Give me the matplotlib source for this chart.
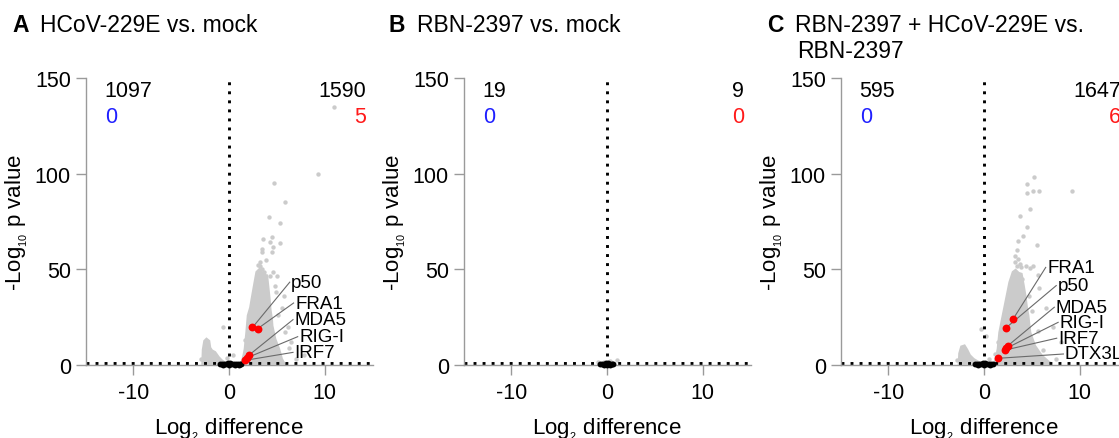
import matplotlib
matplotlib.use("Agg")
import matplotlib.pyplot as plt

plt.rcParams['font.family'] = ['Liberation Sans', 'DejaVu Sans']
plt.rcParams['mathtext.fontset'] = 'custom'
plt.rcParams['mathtext.rm'] = 'Liberation Sans'
plt.rcParams['mathtext.it'] = 'Liberation Sans:italic'
plt.rcParams['axes.unicode_minus'] = False

# ---------------- data ----------------
titles = [["HCoV-229E vs. mock"], ["RBN-2397 vs. mock"],
          ["RBN-2397 + HCoV-229E vs.", "RBN-2397"]]
letters = ["A", "B", "C"]

down_counts = [1097, 19, 595]
up_counts = [1590, 9, 1647]
down_hits = [0, 0, 0]
up_hits = [5, 0, 6]

sig_threshold = 1.3  # -log10(0.05)

# dense clouds of significant genes (outline of the overlapping points)
cloud_up_A_x = [1.33, 1.55, 1.68, 1.85, 2.0, 2.25, 2.4, 2.7, 2.9, 3.2, 3.6, 3.95, 4.1,
                4.2, 4.3, 4.45, 4.5, 4.8, 5.2, 5.5, 5.75, 1.33]
cloud_up_A_y = [0.8, 5, 8.4, 17, 25.8, 30, 34.5, 43, 48.5, 50, 47, 46.7, 39.7,
                35, 29, 24, 20.5, 13.6, 8.4, 3.1, 0.8, 0.8]
cloud_dn_A_x = [-2.75, -2.7, -2.55, -2.35, -2.1, -2.0, -1.8, -1.47, -1.1, -0.77, -0.35, -2.75]
cloud_dn_A_y = [0.8, 8, 12.5, 13.5, 12.5, 9, 7.5, 6.6, 4, 2.3, 0.8, 0.8]

cloud_up_C_x = [1.12, 1.3, 1.47, 1.64, 1.99, 2.34, 2.69, 3.04, 3.3, 3.6, 3.9, 4.1, 4.3,
                4.45, 4.6, 4.8, 5.3, 6.0, 6.7, 7.0, 1.12]
cloud_up_C_y = [0.8, 4, 8.4, 17, 25.8, 34.5, 43.2, 48.5, 49.5, 48, 47.5, 42, 36,
                30, 25.8, 17, 10, 4.9, 1.8, 0.8, 0.8]
cloud_dn_C_x = [-2.6, -2.55, -2.35, -2.05, -1.8, -1.5, -1.1, -0.7, -0.3, -2.6]
cloud_dn_C_y = [0.8, 6, 9.5, 10, 8, 5, 3, 1.8, 0.8, 0.8]

# isolated significant genes
sig_A_x = [11.0, 9.35, 4.75, 5.9, 4.2, 5.3, 3.6, 4.45, 4.3, 5.3, 3.5, 4.5, 3.4, 4.65,
           3.45, 3.65, 4.65, 5.0, 4.8, 4.3, 3.25, 5.5, 6.2, 6.5, 7.8, -0.6, 3.2, 5.8,
           3.0, 3.9, 4.9, 5.1, 5.9, 6.3, 7.0, 1.7, 2.2, -2.9, -0.2, 0.4]
sig_A_y = [135, 100, 95, 85, 77.5, 74, 66, 67, 64.5, 63.6, 58.8, 58.8, 60.5, 61.8,
           50, 48.5, 48.5, 46.4, 41.5, 46.4, 52, 30, 20, 12, 5, 19.7, 54, 36,
           52.5, 55, 38, 26, 17, 9, 3, 13, 24, 3, 3.5, 5]
sig_B_x = [-0.9, 1.0, 0.3, -0.3]
sig_B_y = [1.5, 2.8, 2.0, 1.8]
sig_C_x = [9.2, 5.2, 4.45, 5.1, 5.8, 4.5, 4.8, 3.74, 4.5, 4.1, 3.6, 5.55, 3.29, 3.56,
           3.4, 3.9, 4.4, 4.8, 5.1, 5.6, 5.8, 6.5, 7.2, 8.0, -0.27, 0.25, 4.0, 3.5,
           3.2, 3.8, 4.7, 5.0, 5.6, 6.2, 7.5, 1.1, 1.5, -2.8, 0.5]
sig_C_y = [90.8, 98, 94.6, 91, 91, 89.7, 81.5, 77.7, 72, 67.3, 64.7, 62.9, 57, 55.5,
           52, 51, 52, 50.5, 51.5, 47, 40, 30, 20, 12, 18.8, 15.3, 45, 60,
           54, 53, 36, 28, 18, 8, 3, 6, 12, 2.5, 3]

# non-significant genes
ns_A_x = [-0.9, -0.7, -0.5, -0.3, -0.1, 0.1, 0.3, 0.5, 0.7, 0.9, 1.1, 1.3, -0.6, 0.0, 0.6, 1.0]
ns_A_y = [0.3, 0.5, 0.6, 0.7, 0.8, 0.8, 0.7, 0.6, 0.5, 0.4, 0.4, 0.3, 0.1, 0.2, 0.2, 0.1]
ns_B_x = [-0.7, -0.5, -0.3, -0.1, 0.1, 0.3, 0.5, 0.65, -0.3, 0.0, 0.3]
ns_B_y = [0.3, 0.5, 0.7, 0.9, 0.9, 0.7, 0.5, 0.3, 0.1, 0.2, 0.1]
ns_C_x = [-0.95, -0.7, -0.5, -0.3, -0.1, 0.1, 0.3, 0.5, 0.7, 0.9, -0.6, 0.0, 0.6]
ns_C_y = [0.3, 0.5, 0.6, 0.7, 0.8, 0.8, 0.7, 0.6, 0.5, 0.3, 0.1, 0.2, 0.1]

# highlighted genes: name, log2 difference, -log10 p, label position
hits_A_names = ["p50", "FRA1", "MDA5", "RIG-I", "IRF7"]
hits_A_x = [2.45, 3.0, 2.1, 1.9, 1.65]
hits_A_y = [19.6, 19.0, 5.2, 3.8, 2.4]
hits_A_lx = [6.5, 6.9, 6.84, 7.33, 6.84]
hits_A_ly = [43.3, 32.4, 23.7, 14.8, 6.6]

hits_C_names = ["FRA1", "p50", "MDA5", "RIG-I", "IRF7", "DTX3L"]
hits_C_x = [3.04, 2.27, 2.5, 2.35, 2.2, 1.47]
hits_C_y = [24.0, 19.3, 10.1, 8.8, 7.8, 3.5]
hits_C_lx = [6.6, 7.7, 7.5, 7.9, 7.75, 8.45]
hits_C_ly = [51, 41.5, 30.2, 22.3, 14.0, 5.75]

panels = [
    dict(clouds=[(cloud_up_A_x, cloud_up_A_y), (cloud_dn_A_x, cloud_dn_A_y)],
         sx=sig_A_x, sy=sig_A_y, nx=ns_A_x, ny=ns_A_y,
         hits=(hits_A_names, hits_A_x, hits_A_y, hits_A_lx, hits_A_ly)),
    dict(clouds=[], sx=sig_B_x, sy=sig_B_y, nx=ns_B_x, ny=ns_B_y, hits=None),
    dict(clouds=[(cloud_up_C_x, cloud_up_C_y), (cloud_dn_C_x, cloud_dn_C_y)],
         sx=sig_C_x, sy=sig_C_y, nx=ns_C_x, ny=ns_C_y,
         hits=(hits_C_names, hits_C_x, hits_C_y, hits_C_lx, hits_C_ly)),
]

# ---------------- figure ----------------
W, H = 1119, 439
fig = plt.figure(figsize=(W / 100, H / 100), dpi=100)

ax_left_px = [85.5, 463.5, 840.5]
ax_w_px, ax_h_px = 287, 287
ax_bottom_px = 366  # from top
title_x_px = [12, 388, 767]
title_text_px = [40, 417, 795]
title_line_px = [32, 58]

GRAY = '#cbcbcb'
SPINE = '#9a9a9a'

XLABEL = r'Log$_{_\mathrm{2}}$ difference'
YLABEL = r'-Log$_{_\mathrm{10}}$ p value'

for i, p in enumerate(panels):
    ax = fig.add_axes([ax_left_px[i] / W, (H - ax_bottom_px) / H, ax_w_px / W, ax_h_px / H])
    ax.set_xlim(-15, 15)
    ax.set_ylim(0, 150)
    for s in ['top', 'right']:
        ax.spines[s].set_visible(False)
    for s in ['left', 'bottom']:
        ax.spines[s].set_color(SPINE)
        ax.spines[s].set_linewidth(1.0)
    ax.set_xticks([-10, 0, 10])
    ax.set_yticks([0, 50, 100, 150])
    ax.tick_params(axis='both', colors=SPINE, labelcolor='black', labelsize=15.5,
                   length=7.5, width=1.0)
    ax.tick_params(axis='x', pad=5)
    ax.tick_params(axis='y', pad=3)

    ax.set_xlabel(XLABEL, fontsize=16)
    ax.set_ylabel(YLABEL, fontsize=16)
    ax.xaxis.set_label_coords(0.5, -0.177)
    ax.yaxis.set_label_coords(-0.195, 0.5)

    for cx, cy in p['clouds']:
        ax.fill(cx, cy, color=GRAY, lw=2.0, ec=GRAY, zorder=1)
    ax.scatter(p['sx'], p['sy'], s=10, color=GRAY, lw=0, zorder=1)
    ax.scatter(p['nx'], p['ny'], s=18, color='black', lw=0, zorder=3, clip_on=False)

    # threshold lines
    ax.plot([0, 0], [0, 150], color='black', lw=2.1, ls=(0, (1, 2.1)),
            dash_capstyle='butt', zorder=2, clip_on=False)
    ax.plot([-15, 15], [sig_threshold, sig_threshold], color='black', lw=2.1,
            ls=(0, (1, 2.1)), dash_capstyle='butt', zorder=2, clip_on=False)

    if p['hits'] is not None:
        names, hx, hy, lx, ly = p['hits']
        for n, x, y, tx, ty in zip(names, hx, hy, lx, ly):
            ax.plot([x, tx - 0.15], [y, ty], color='#6a6a6a', lw=0.8, zorder=4)
            ax.text(tx, ty, n, fontsize=13.5, ha='left', va='center', zorder=5)
        ax.scatter(hx, hy, s=32, color='#ff0000', lw=0, zorder=6)

    # counts of changed genes and highlighted hits
    ax.text(-13.0, 143.7, str(down_counts[i]), fontsize=15.5, ha='left', va='center')
    ax.text(-13.0, 130, str(down_hits[i]), fontsize=15.5, ha='left', va='center', color='#1f1fff')
    ax.text(14.3, 143.7, str(up_counts[i]), fontsize=15.5, ha='right', va='center', clip_on=False)
    ax.text(14.3, 130, str(up_hits[i]), fontsize=15.5, ha='right', va='center', color='#ff1a1a')

    fig.text(title_x_px[i] / W, 1 - title_line_px[0] / H, letters[i], fontsize=16.5,
             fontweight='bold', ha='left', va='baseline')
    for k, line in enumerate(titles[i]):
        fig.text((title_text_px[i] + 2.5 * k) / W, 1 - title_line_px[k] / H, line,
                 fontsize=16.5, ha='left', va='baseline')

fig.savefig('out.png', dpi=100)
